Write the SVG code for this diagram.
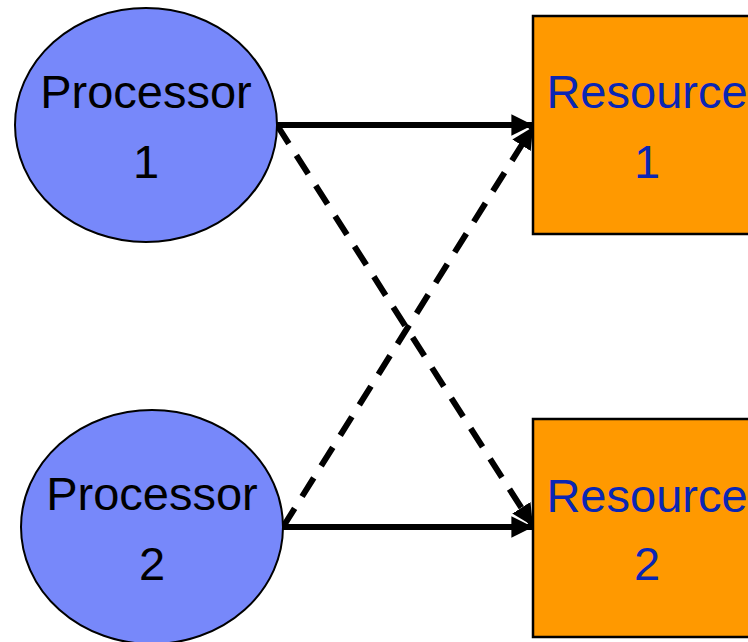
<svg xmlns="http://www.w3.org/2000/svg" width="748" height="642" viewBox="0 0 748 642">
  <style>
    .proc { fill: #7788fa; stroke: #000; stroke-width: 2; }
    .res { fill: #ff9900; stroke: #000; stroke-width: 2.5; }
    .lbl { font-family: "Liberation Sans", Arial, sans-serif; font-size: 47px; text-anchor: middle; }
    .plbl { fill: #000; }
    .rlbl { fill: #0a26b4; }
    .edge { stroke: #000; stroke-width: 6; fill: none; }
    .dash { stroke-dasharray: 22 14; }
  </style>
  <defs>
    <marker id="arrow" viewBox="0 0 10 10" refX="10" refY="5" markerWidth="3.6" markerHeight="3.6" markerUnits="strokeWidth" orient="auto">
      <path d="M0,0 L10,5 L0,10 z" fill="#000"/>
    </marker>
  </defs>

  <g id="connectors">
    <line class="edge" x1="277" y1="125" x2="533" y2="125" marker-end="url(#arrow)"/>
    <line class="edge" x1="283" y1="527" x2="533" y2="527" marker-end="url(#arrow)"/>
    <line class="edge dash" x1="277" y1="125" x2="533" y2="526" marker-end="url(#arrow)"/>
    <line class="edge dash" x1="283" y1="527" x2="533" y2="127" marker-end="url(#arrow)"/>
  </g>

  <g id="processor1">
    <ellipse class="proc" cx="146" cy="125" rx="131" ry="117"/>
    <text class="lbl plbl" x="146" y="108">Processor</text>
    <text class="lbl plbl" x="146" y="178">1</text>
  </g>

  <g id="processor2">
    <ellipse class="proc" cx="152" cy="527" rx="131" ry="117"/>
    <text class="lbl plbl" x="152" y="510">Processor</text>
    <text class="lbl plbl" x="152" y="580">2</text>
  </g>

  <g id="resource1">
    <rect class="res" x="533" y="16" width="230" height="218"/>
    <text class="lbl rlbl" x="647" y="108">Resource</text>
    <text class="lbl rlbl" x="647" y="178">1</text>
  </g>

  <g id="resource2">
    <rect class="res" x="533" y="419" width="230" height="218"/>
    <text class="lbl rlbl" x="647" y="512">Resource</text>
    <text class="lbl rlbl" x="647" y="580">2</text>
  </g>
</svg>
